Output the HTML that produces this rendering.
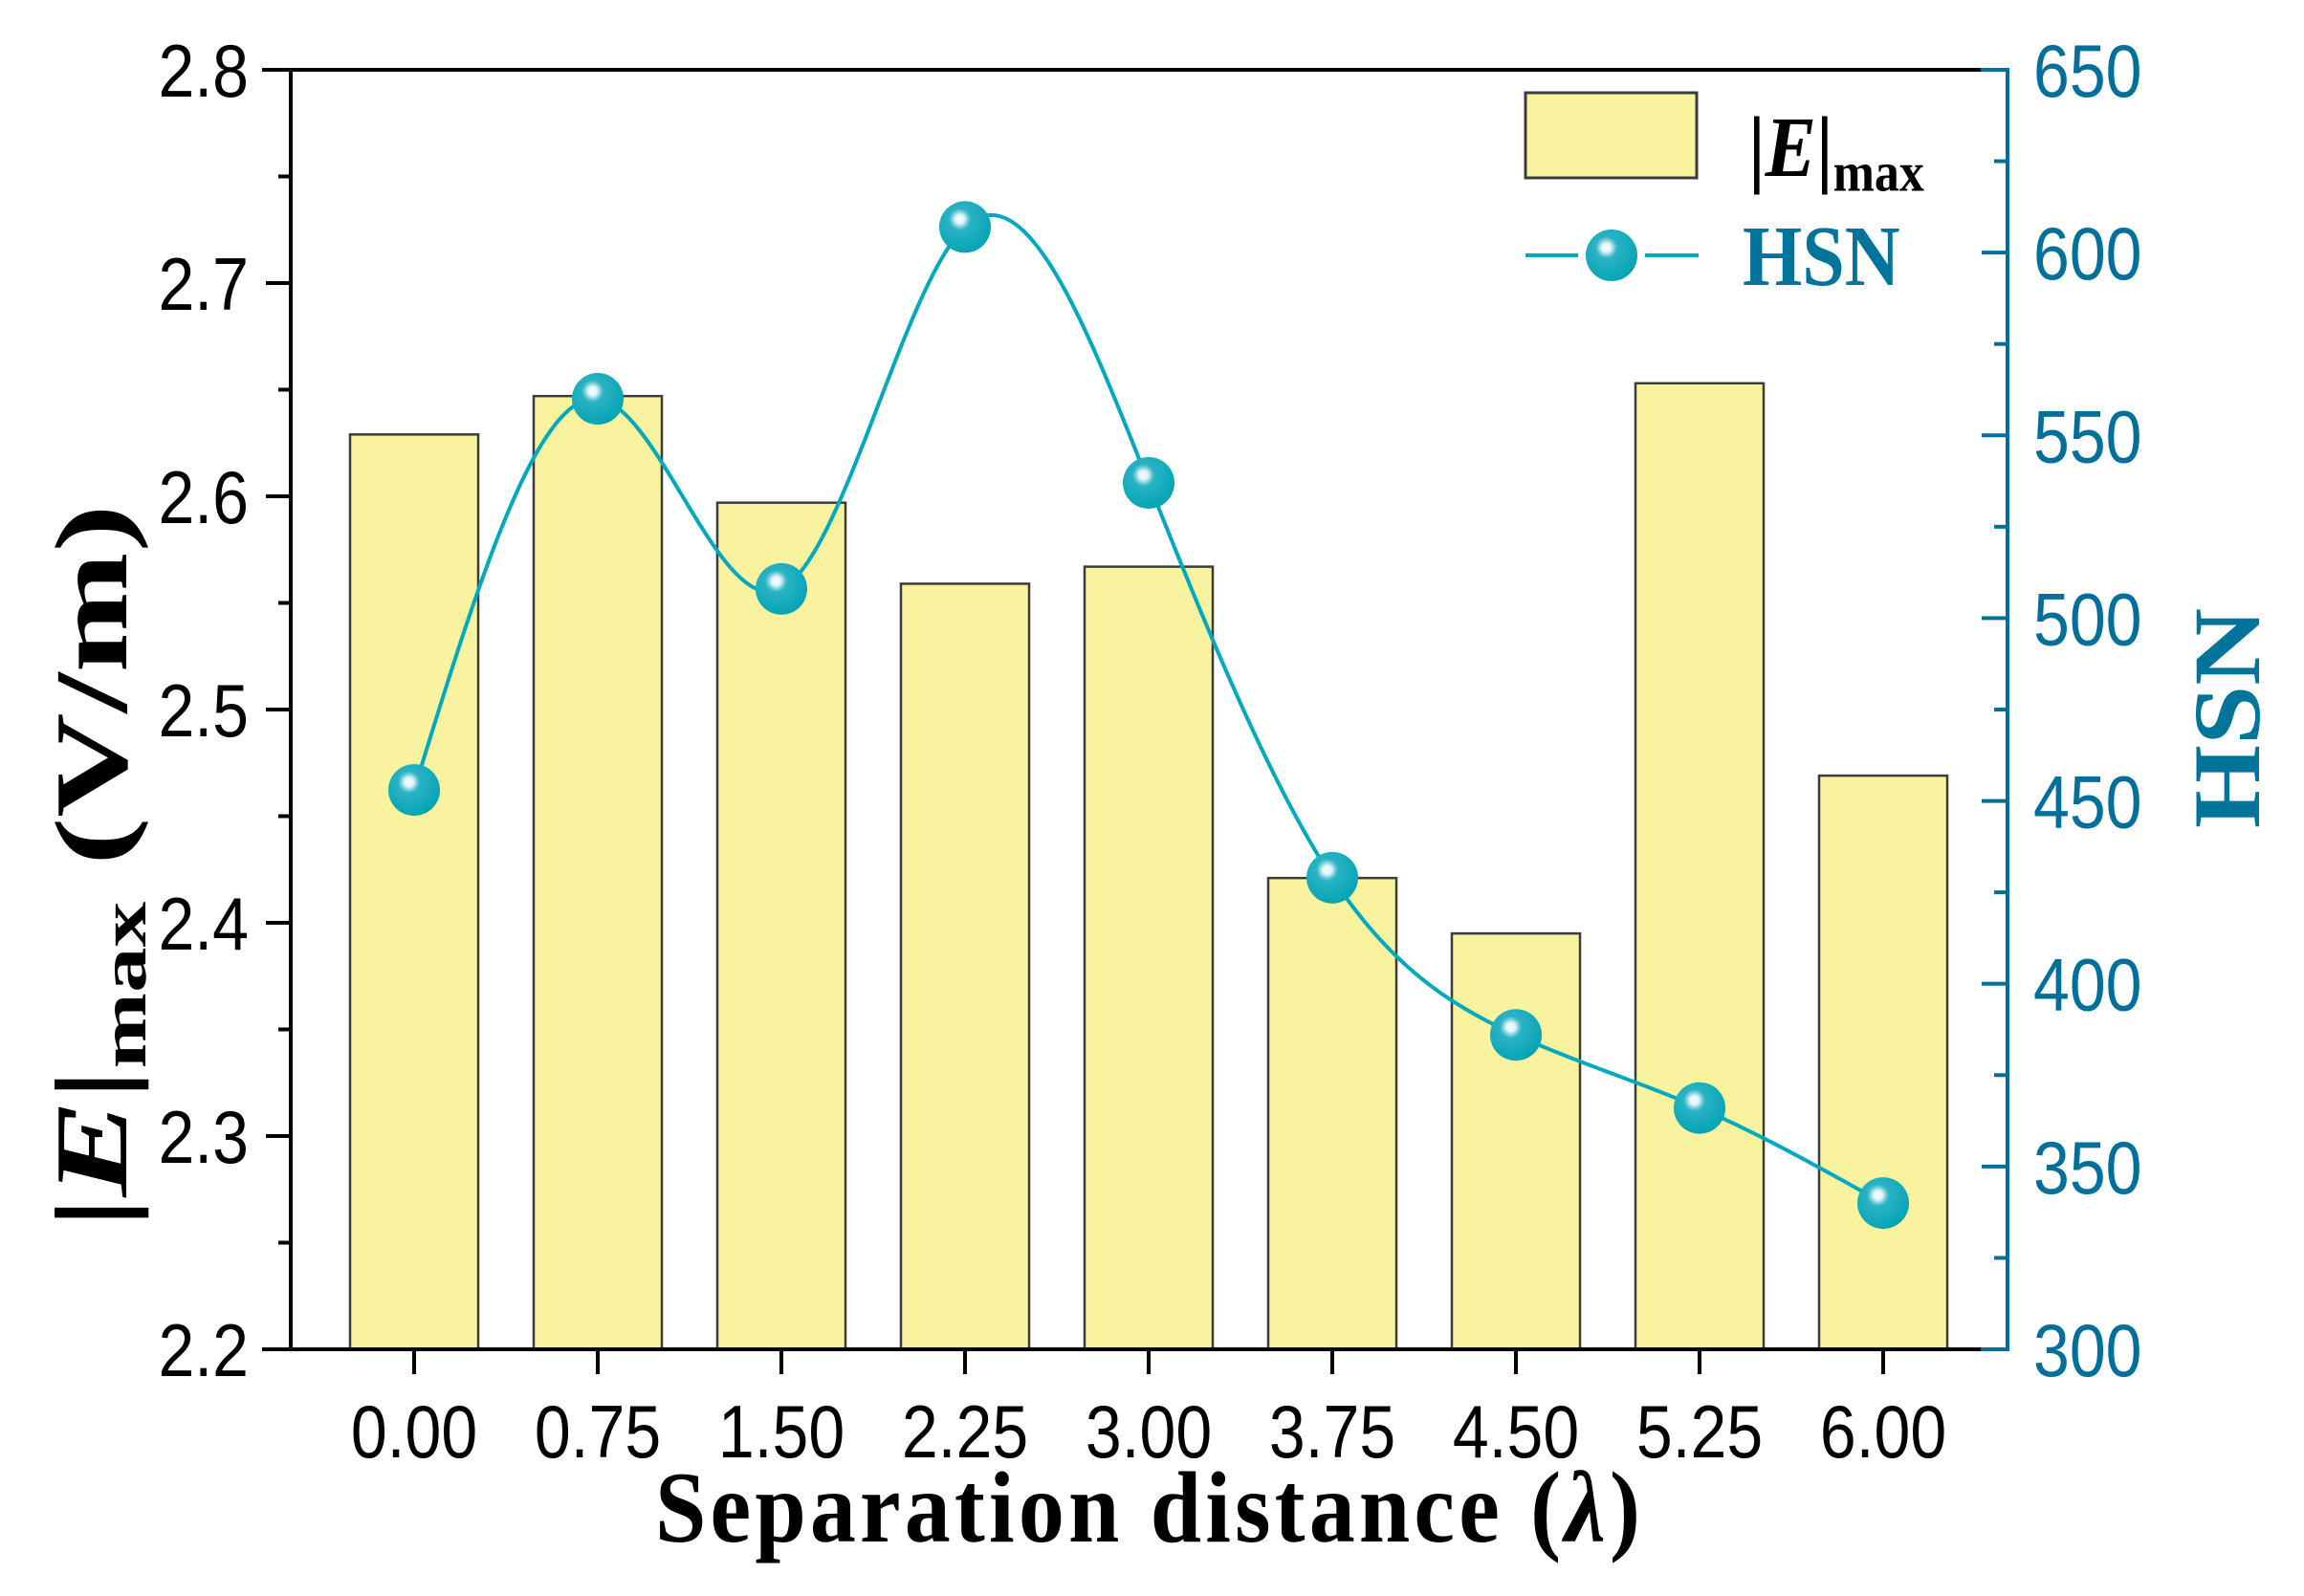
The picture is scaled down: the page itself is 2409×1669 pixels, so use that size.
<!DOCTYPE html>
<html><head><meta charset="utf-8"><style>
html,body{margin:0;padding:0;background:#fff}
svg{display:block}
</style></head><body>
<svg id="chart" width="2409" height="1669" viewBox="0 0 2409 1669" xmlns="http://www.w3.org/2000/svg">
<defs>
<radialGradient id="ball" cx="0.4" cy="0.35" r="0.7">
<stop offset="0" stop-color="#f2fbfd"/>
<stop offset="0.12" stop-color="#e4f6f9"/>
<stop offset="0.2" stop-color="#8dd5e0"/>
<stop offset="0.3" stop-color="#2ab3c4"/>
<stop offset="1" stop-color="#00a3b4"/>
</radialGradient>
</defs>
<g id="bars"></g>
<g id="line"></g>
<g id="axes"></g>
<g id="legend">
<rect x="1595" y="97" width="179" height="89" fill="#f9f3a0" stroke="#3c3c3c" stroke-width="3"/>
<text transform="translate(1828,184) scale(1,1.12)" font-family="Liberation Serif, serif" font-weight="bold" font-size="80" fill="#000">|<tspan font-style="italic">E</tspan>|<tspan font-size="52" dy="14">max</tspan></text>
<line x1="1595" y1="267" x2="1650" y2="267" stroke="#00a9bd" stroke-width="4"/>
<line x1="1720" y1="267" x2="1776" y2="267" stroke="#00a9bd" stroke-width="4"/>
<circle cx="1685" cy="267" r="27" fill="url(#ball)"/>
<text transform="translate(1822,298) scale(1,1.12)" font-family="Liberation Serif, serif" font-weight="bold" font-size="80" fill="#00749a">HSN</text>
</g>
<text transform="translate(1200,1612) scale(1,1.1)" text-anchor="middle" font-family="Liberation Serif, serif" font-weight="bold" font-size="96" textLength="1030" fill="#000">Separation distance (<tspan font-style="italic">λ</tspan>)</text>
<text transform="translate(132,906) rotate(-90) scale(1.4,1)" text-anchor="middle" font-family="Liberation Serif, serif" font-weight="bold" font-size="108" fill="#000">|<tspan font-style="italic">E</tspan>|<tspan font-size="68" dy="20">max</tspan><tspan dy="-20"> (V/m)</tspan></text>
<text transform="translate(2362,751) rotate(-90) scale(1.12,1)" text-anchor="middle" font-family="Liberation Serif, serif" font-weight="bold" font-size="100" fill="#00749a">HSN</text>
</svg>
<script>
const categories = ["0.00","0.75","1.50","2.25","3.00","3.75","4.50","5.25","6.00"];
const emaxValues = [2.629,2.647,2.597,2.559,2.567,2.421,2.395,2.653,2.469];
const hsnValues = [453,560,508,607,537,429,386,366,340];
const leftTicks = ["2.2","2.3","2.4","2.5","2.6","2.7","2.8"];
const rightTicks = ["300","350","400","450","500","550","600","650"];

const NS="http://www.w3.org/2000/svg";
const L=304,R=2099,T=73,B=1411;
const x0=433,dx=192,barW=134;
const xPos=i=>x0+i*dx;
const yL=v=>B-(v-2.2)/(0.6)*(B-T);
const yR=v=>B-(v-300)/(350)*(B-T);
function mk(tag,attrs,parent){const e=document.createElementNS(NS,tag);for(const k in attrs)e.setAttribute(k,attrs[k]);parent.appendChild(e);return e;}
const bars=document.getElementById('bars'),line=document.getElementById('line'),axes=document.getElementById('axes');

emaxValues.forEach((v,i)=>{
  const r=mk('rect',{x:xPos(i)-barW/2,y:yL(v),width:barW,height:B-yL(v),fill:'#f9f3a0',stroke:'#3c3c3c','stroke-width':2.5},bars);
  
  
});

const n=hsnValues.length,xs=hsnValues.map((_,i)=>xPos(i)),ys=hsnValues.map(v=>yR(v));
const h=[],al=[0],l=[1],mu=[0],z=[0],c=new Array(n).fill(0),b=[],d=[];
for(let i=0;i<n-1;i++)h[i]=xs[i+1]-xs[i];
for(let i=1;i<n-1;i++)al[i]=3/h[i]*(ys[i+1]-ys[i])-3/h[i-1]*(ys[i]-ys[i-1]);
for(let i=1;i<n-1;i++){l[i]=2*(xs[i+1]-xs[i-1])-h[i-1]*mu[i-1];mu[i]=h[i]/l[i];z[i]=(al[i]-h[i-1]*z[i-1])/l[i];}
l[n-1]=1;z[n-1]=0;c[n-1]=0;
for(let j=n-2;j>=0;j--){c[j]=z[j]-mu[j]*c[j+1];b[j]=(ys[j+1]-ys[j])/h[j]-h[j]*(c[j+1]+2*c[j])/3;d[j]=(c[j+1]-c[j])/(3*h[j]);}
let dStr='M'+xs[0]+','+ys[0];
for(let i=0;i<n-1;i++){for(let s=1;s<=40;s++){const t=h[i]*s/40;dStr+=' L'+(xs[i]+t).toFixed(2)+','+(ys[i]+b[i]*t+c[i]*t*t+d[i]*t*t*t).toFixed(2);}}
const p=mk('path',{d:dStr,fill:'none',stroke:'#00a9bd','stroke-width':4},line);


hsnValues.forEach((v,i)=>{
  const m=mk('circle',{cx:xPos(i),cy:yR(v),r:27,fill:'url(#ball)'},line);
  
  
});

mk('line',{x1:L-30,y1:T,x2:R,y2:T,stroke:'#000','stroke-width':4},axes);
mk('line',{x1:L,y1:T,x2:L,y2:B,stroke:'#000','stroke-width':4},axes);
mk('line',{x1:L-30,y1:B,x2:R-28,y2:B,stroke:'#000','stroke-width':4},axes);
mk('polyline',{points:(R-28)+','+B+' '+R+','+B+' '+R+','+T+' '+(R-28)+','+T,fill:'none',stroke:'#00709a','stroke-width':4},axes);

leftTicks.forEach((t,i)=>{
  const y=yL(parseFloat(t));
  mk('line',{x1:L-26,y1:y,x2:L,y2:y,stroke:'#000','stroke-width':4},axes);
  if(i<leftTicks.length-1){const ym=yL(parseFloat(t)+0.05);mk('line',{x1:L-13,y1:ym,x2:L,y2:ym,stroke:'#000','stroke-width':4},axes);}
  const tx=mk('text',{transform:'translate(260,'+(y+28)+') scale(1,1.14)','text-anchor':'end','font-family':'Liberation Sans, sans-serif','font-size':68,fill:'#000'},axes);
  tx.textContent=t;
  
  
});
rightTicks.forEach((t,i)=>{
  const y=yR(parseFloat(t));
  mk('line',{x1:R-27,y1:y,x2:R,y2:y,stroke:'#00709a','stroke-width':4},axes);
  if(i<rightTicks.length-1){const ym=yR(parseFloat(t)+25);mk('line',{x1:R-14,y1:ym,x2:R,y2:ym,stroke:'#00709a','stroke-width':4},axes);}
  const tx=mk('text',{transform:'translate(2126,'+(y+28)+') scale(1,1.14)','text-anchor':'start','font-family':'Liberation Sans, sans-serif','font-size':68,fill:'#00709a'},axes);
  tx.textContent=t;
  
  
});
categories.forEach((t,i)=>{
  const x=xPos(i);
  mk('line',{x1:x,y1:B,x2:x,y2:B+26,stroke:'#000','stroke-width':4},axes);
  const tx=mk('text',{transform:'translate('+x+',1524) scale(1,1.14)','text-anchor':'middle','font-family':'Liberation Sans, sans-serif','font-size':68,fill:'#000'},axes);
  tx.textContent=t;
  
  
});
</script>
</body></html>
